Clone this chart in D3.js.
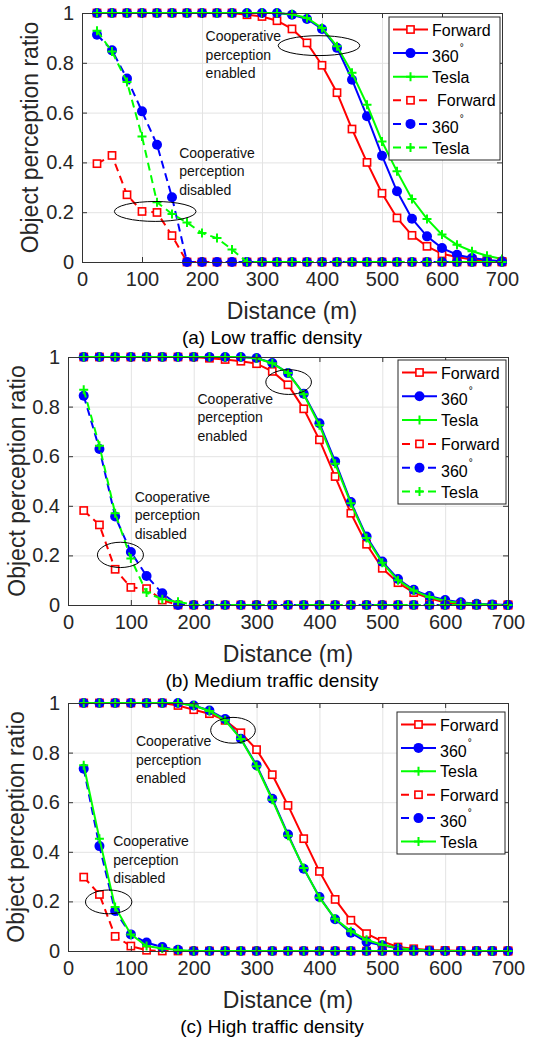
<!DOCTYPE html>
<html>
<head>
<meta charset="utf-8">
<script src="https://cdn.jsdelivr.net/npm/d3@7/dist/d3.min.js"></script>
<style>
  body { margin: 0; background: #fff; }
  text { font-family: "Liberation Sans", Arial, sans-serif; }
</style>
</head>
<body>
<div id="chart"></div>
<script>
// distances (m)
var dist = [25,50,75,100,125,150,175,200,225,250,275,300,325,350,375,400,425,450,475,500,525,550,575,600,625,650,675,700];

var xTicks = [0,100,200,300,400,500,600,700];
var yTicks = [0,0.2,0.4,0.6,0.8,1];
var yTickLabels = ["0","0.2","0.4","0.6","0.8","1"];

// (a) low traffic density
var lowFwdOn   = [1,1,1,1,1,1,1,1,1,1,0.993,0.986,0.969,0.936,0.88,0.79,0.68,0.534,0.40,0.276,0.177,0.107,0.063,0.033,0.02,0.01,0.005,0.002];
var low360On   = [1,1,1,1,1,1,1,1,1,1,1,1,1,0.993,0.976,0.936,0.86,0.732,0.585,0.427,0.284,0.174,0.103,0.056,0.029,0.016,0.008,0.003];
var lowTeslaOn = [1,1,1,1,1,1,1,1,1,1,1,1,1,0.995,0.98,0.94,0.866,0.76,0.632,0.484,0.364,0.253,0.173,0.11,0.069,0.043,0.025,0.012];
var lowFwdOff  = [0.395,0.428,0.27,0.203,0.199,0.106,0,0,0,0,0,0,0,0,0,0,0,0,0,0,0,0,0,0,0,0,0,0];
var low360Off  = [0.913,0.85,0.737,0.605,0.471,0.26,0,0,0,0,0,0,0,0,0,0,0,0,0,0,0,0,0,0,0,0,0,0];
var lowTeslaOff= [0.929,0.845,0.723,0.504,0.24,0.193,0.159,0.116,0.096,0.05,0,0,0,0,0,0,0,0,0,0,0,0,0,0,0,0,0,0];

// (b) medium traffic density
var medFwdOn   = [1,1,1,1,1,1,1,1,0.995,0.99,0.983,0.973,0.942,0.888,0.791,0.666,0.518,0.37,0.245,0.148,0.09,0.05,0.027,0.01,0.004,0.002,0.001,0];
var med360On   = [1,1,1,1,1,1,1,1,1,1,1,0.996,0.976,0.935,0.852,0.733,0.579,0.415,0.276,0.175,0.105,0.061,0.036,0.02,0.011,0.005,0.002,0];
var medTeslaOn = [1,1,1,1,1,1,1,1,1,1,1,0.995,0.975,0.935,0.85,0.725,0.57,0.41,0.27,0.17,0.1,0.058,0.032,0.016,0.008,0.004,0.001,0];
var medFwdOff  = [0.381,0.323,0.144,0.071,0.066,0.02,0,0,0,0,0,0,0,0,0,0,0,0,0,0,0,0,0,0,0,0,0,0];
var med360Off  = [0.844,0.629,0.357,0.214,0.117,0.047,0,0,0,0,0,0,0,0,0,0,0,0,0,0,0,0,0,0,0,0,0,0];
var medTeslaOff= [0.868,0.642,0.37,0.188,0.05,0.023,0.013,0,0,0,0,0,0,0,0,0,0,0,0,0,0,0,0,0,0,0,0,0];

// (c) high traffic density
var highFwdOn   = [1,1,1,1,1,1,0.99,0.973,0.957,0.93,0.88,0.812,0.711,0.587,0.453,0.321,0.208,0.124,0.07,0.039,0.016,0.009,0.004,0.002,0.001,0,0,0];
var high360On   = [1,1,1,1,1,1,1,0.99,0.97,0.935,0.856,0.749,0.614,0.47,0.332,0.218,0.128,0.074,0.036,0.023,0.01,0.004,0.001,0,0,0,0,0];
var highTeslaOn = [1,1,1,1,1,1,1,0.99,0.968,0.93,0.855,0.745,0.61,0.465,0.335,0.215,0.13,0.08,0.045,0.025,0.012,0.005,0.002,0,0,0,0,0];
var highFwdOff  = [0.298,0.228,0.059,0.02,0.003,0,0,0,0,0,0,0,0,0,0,0,0,0,0,0,0,0,0,0,0,0,0,0];
var high360Off  = [0.735,0.423,0.161,0.067,0.034,0.016,0.005,0,0,0,0,0,0,0,0,0,0,0,0,0,0,0,0,0,0,0,0,0];
var highTeslaOff= [0.749,0.453,0.177,0.067,0.02,0.01,0.004,0,0,0,0,0,0,0,0,0,0,0,0,0,0,0,0,0,0,0,0,0];

var seriesNames = ["Forward","360°","Tesla","Forward","360°","Tesla"];
var colors = ["#ff0000","#0000ff","#00ff00","#ff0000","#0000ff","#00ff00"];
var markers = ["square","circle","plus","square","circle","plus"];

var panels = [
  { left:82, right:502, top:13, bottom:262, labelX:38, caption:"(a) Low traffic density",
    data:[lowFwdOn,low360On,lowTeslaOn,lowFwdOff,low360Off,lowTeslaOff],
    dashed:[false,false,false,true,true,true],
    legendDashed:[false,false,false,true,true,true],
    legendPad:[0,0,0,5,0,0],
    legend:{x:389,y:17,w:111,h:143},
    notes:[{x:206,y:0.886,lines:["Cooperative","perception","enabled"]},
           {x:162,y:0.418,lines:["Cooperative","perception","disabled"]}],
    rings:[{x:395,y:0.869,rx:68,ry:0.04},{x:122,y:0.203,rx:68,ry:0.04}] },
  { left:68, right:508, top:357, bottom:605, labelX:25, caption:"(b) Medium traffic density",
    data:[medFwdOn,med360On,medTeslaOn,medFwdOff,med360Off,medTeslaOff],
    dashed:[false,false,false,true,true,true],
    legendDashed:[false,false,false,true,true,true],
    legendPad:[0,0,0,0,0,0],
    legend:{x:398,y:360,w:108,h:144},
    notes:[{x:206,y:0.811,lines:["Cooperative","perception","enabled"]},
           {x:106,y:0.416,lines:["Cooperative","perception","disabled"]}],
    rings:[{x:351,y:0.899,rx:36.3,ry:0.05},{x:83.4,y:0.202,rx:36.6,ry:0.051}] },
  { left:68, right:508, top:703, bottom:951, labelX:24, caption:"(c) High traffic density",
    data:[highFwdOn,high360On,highTeslaOn,highFwdOff,high360Off,highTeslaOff],
    dashed:[false,false,false,true,true,false],
    legendDashed:[false,false,false,true,true,false],
    legendPad:[0,0,0,0,0,0],
    legend:{x:397,y:712,w:108,h:142},
    notes:[{x:108,y:0.825,lines:["Cooperative","perception","enabled"]},
           {x:72,y:0.422,lines:["Cooperative","perception","disabled"]}],
    rings:[{x:262.5,y:0.89,rx:35.5,ry:0.052},{x:64.7,y:0.198,rx:36.9,ry:0.048}] }
];

var svg = d3.select("#chart")
  .append("svg")
    .attr("width",535)
    .attr("height",1038);

function drawMarker(g, type, color, cx, cy) {
  if (type == "square") {
    g.append("rect")
      .attr("x",cx-3.6).attr("y",cy-3.6)
      .attr("width",7.2).attr("height",7.2)
      .attr("fill","#fff")
      .attr("stroke",color)
      .attr("stroke-width",1.6);
  } else if (type == "circle") {
    g.append("circle")
      .attr("cx",cx).attr("cy",cy).attr("r",5)
      .attr("fill",color);
  } else {
    g.append("path")
      .attr("d","M"+(cx-4.5)+","+cy+"H"+(cx+4.5)+"M"+cx+","+(cy-4.5)+"V"+(cy+4.5))
      .attr("stroke",color)
      .attr("stroke-width",2);
  }
}

panels.forEach(function(p) {
  var x = d3.scaleLinear().domain([0,700]).range([p.left,p.right]);
  var y = d3.scaleLinear().domain([0,1]).range([p.bottom,p.top]);
  var g = svg.append("g");

  // grid
  g.append("g")
    .attr("transform","translate(0,"+p.bottom+")")
    .call(d3.axisBottom(x).tickValues(xTicks).tickSize(-(p.bottom-p.top)).tickFormat(""))
    .call(function(s){ s.select(".domain").remove(); s.selectAll("line").attr("stroke","#e3e3e3"); });
  g.append("g")
    .attr("transform","translate("+p.left+",0)")
    .call(d3.axisLeft(y).tickValues(yTicks).tickSize(-(p.right-p.left)).tickFormat(""))
    .call(function(s){ s.select(".domain").remove(); s.selectAll("line").attr("stroke","#e3e3e3"); });

  // series
  var line = d3.line()
    .x(function(d,i){ return x(dist[i]); })
    .y(function(d){ return y(d); });
  p.data.forEach(function(vals, k) {
    g.append("path")
      .datum(vals)
      .attr("d",line)
      .attr("fill","none")
      .attr("stroke",colors[k])
      .attr("stroke-width",2)
      .attr("stroke-dasharray",p.dashed[k] ? "8,5" : null);
    vals.forEach(function(v,i){ drawMarker(g, markers[k], colors[k], x(dist[i]), y(v)); });
  });

  // axes box
  var axCol = "#333";
  var bottomAx = g.append("g")
    .attr("transform","translate(0,"+p.bottom+")")
    .call(d3.axisBottom(x).tickValues(xTicks).tickSize(-5).tickSizeOuter(0).tickPadding(10));
  var topAx = g.append("g")
    .attr("transform","translate(0,"+p.top+")")
    .call(d3.axisTop(x).tickValues(xTicks).tickSize(-5).tickSizeOuter(0).tickFormat(""));
  var leftAx = g.append("g")
    .attr("transform","translate("+p.left+",0)")
    .call(d3.axisLeft(y).tickValues(yTicks).tickSize(-5).tickSizeOuter(0).tickPadding(8)
      .tickFormat(function(d,i){ return yTickLabels[i]; }));
  var rightAx = g.append("g")
    .attr("transform","translate("+p.right+",0)")
    .call(d3.axisRight(y).tickValues(yTicks).tickSize(-5).tickSizeOuter(0).tickFormat(""));
  [bottomAx,topAx,leftAx,rightAx].forEach(function(a){
    a.select(".domain").attr("stroke",axCol);
    a.selectAll(".tick line").attr("stroke",axCol);
    a.selectAll("text")
      .attr("fill","#262626")
      .style("font-size","20px")
      .style("font-family","'Liberation Sans', Arial, sans-serif");
  });

  // annotations
  p.rings.forEach(function(r){
    g.append("ellipse")
      .attr("cx",x(r.x)).attr("cy",y(r.y))
      .attr("rx",x(r.rx)-x(0)).attr("ry",y(0)-y(r.ry))
      .attr("fill","none")
      .attr("stroke","#000")
      .attr("stroke-width",1);
  });
  p.notes.forEach(function(n){
    var t = g.append("text")
      .attr("x",x(n.x))
      .attr("y",y(n.y))
      .attr("fill","#111")
      .style("font-size","14px");
    n.lines.forEach(function(s,i){
      t.append("tspan").attr("x",x(n.x)).attr("dy",i == 0 ? 0 : 18.5).text(s);
    });
  });

  // legend
  var L = p.legend;
  var lg = g.append("g");
  lg.append("rect")
    .attr("x",L.x).attr("y",L.y).attr("width",L.w).attr("height",L.h)
    .attr("fill","#fff")
    .attr("stroke","#262626")
    .attr("stroke-width",1);
  var rowH = (L.h-25)/5;
  seriesNames.forEach(function(name,k){
    var cy = L.y + 12.5 + rowH*k;
    lg.append("line")
      .attr("x1",L.x+4).attr("y1",cy)
      .attr("x2",L.x+39).attr("y2",cy)
      .attr("stroke",colors[k])
      .attr("stroke-width",2)
      .attr("stroke-dasharray",p.legendDashed[k] ? "8,5" : null);
    drawMarker(lg, markers[k], colors[k], L.x+21.5, cy);
    var t = lg.append("text")
      .attr("x",L.x+43+p.legendPad[k])
      .attr("y",cy+6)
      .attr("fill","#000")
      .style("font-size","16px");
    if (name.indexOf("°") > 0) {
      t.append("tspan").attr("y",cy+9).text(name.replace("°",""));
      t.append("tspan").attr("dx",1).attr("dy",-11).style("font-size","10px").text("°");
    } else {
      t.text(name);
    }
  });

  // axis labels
  svg.append("text")
    .attr("transform","translate("+p.labelX+","+((p.top+p.bottom)/2)+") rotate(-90)")
    .attr("text-anchor","middle")
    .attr("fill","#262626")
    .style("font-size","23px")
    .text("Object perception ratio");
  svg.append("text")
    .attr("x",(p.left+p.right)/2)
    .attr("y",p.bottom+57)
    .attr("text-anchor","middle")
    .attr("fill","#262626")
    .style("font-size","23px")
    .text("Distance (m)");
  svg.append("text")
    .attr("x",272)
    .attr("y",p.bottom+82)
    .attr("text-anchor","middle")
    .attr("fill","#000")
    .style("font-size","19px")
    .text(p.caption);
});
</script>
</body>
</html>
